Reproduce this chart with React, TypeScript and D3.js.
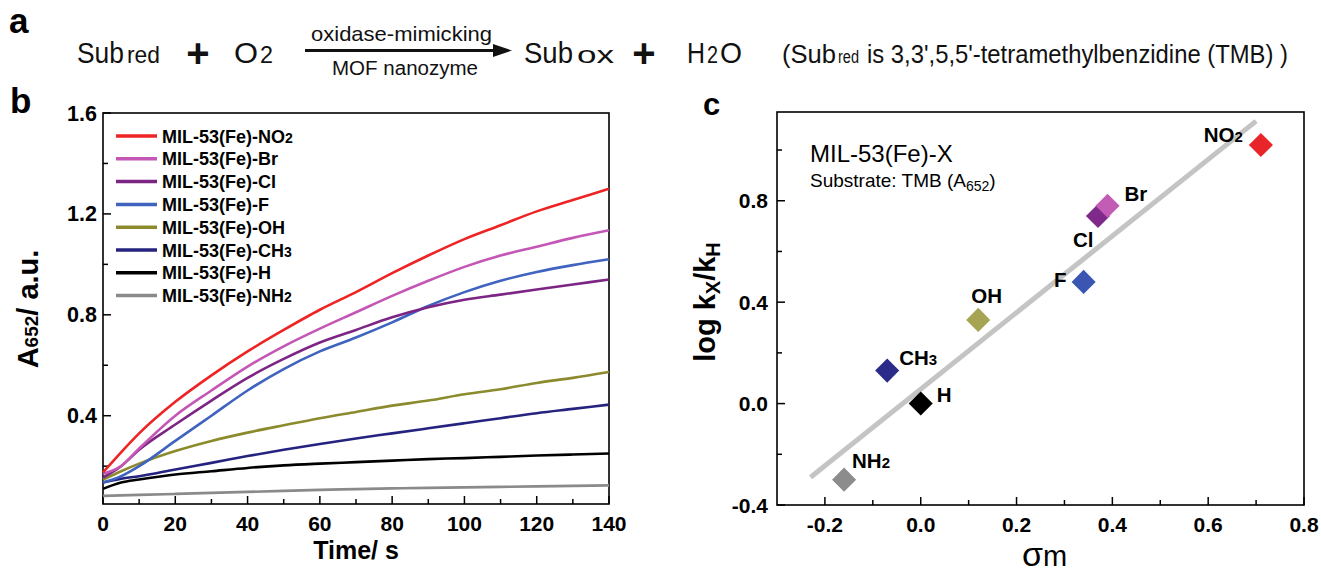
import React from 'react';
import * as d3 from 'd3';

// ---- panel b: absorbance vs time ----
const times = [0, 5, 10, 20, 30, 40, 50, 60, 70, 80, 90, 100, 110, 120, 130, 140];
const no2Values = [0.175, 0.255, 0.33, 0.455, 0.56, 0.655, 0.74, 0.82, 0.89, 0.965, 1.035, 1.1, 1.155, 1.21, 1.255, 1.3];
const brValues = [0.17, 0.2, 0.27, 0.4, 0.5, 0.595, 0.675, 0.745, 0.81, 0.875, 0.935, 0.99, 1.035, 1.07, 1.105, 1.135];
const clValues = [0.155, 0.2, 0.265, 0.365, 0.46, 0.55, 0.625, 0.69, 0.74, 0.79, 0.83, 0.86, 0.88, 0.9, 0.92, 0.94];
const fValues = [0.135, 0.16, 0.2, 0.3, 0.4, 0.5, 0.585, 0.655, 0.71, 0.77, 0.835, 0.89, 0.935, 0.97, 0.997, 1.02];
const ohValues = [0.147, 0.18, 0.21, 0.26, 0.3, 0.333, 0.362, 0.39, 0.415, 0.44, 0.46, 0.485, 0.505, 0.53, 0.55, 0.573];
const ch3Values = [0.135, 0.15, 0.16, 0.187, 0.213, 0.24, 0.265, 0.288, 0.31, 0.33, 0.35, 0.37, 0.39, 0.41, 0.427, 0.444];
const hValues = [0.11, 0.135, 0.147, 0.167, 0.18, 0.193, 0.203, 0.21, 0.216, 0.222, 0.228, 0.232, 0.237, 0.242, 0.246, 0.25];
const nh2Values = [0.082, 0.084, 0.086, 0.09, 0.094, 0.098, 0.102, 0.106, 0.109, 0.112, 0.114, 0.116, 0.118, 0.12, 0.122, 0.124];

const legendMain = ['MIL-53(Fe)-NO', 'MIL-53(Fe)-Br', 'MIL-53(Fe)-Cl', 'MIL-53(Fe)-F', 'MIL-53(Fe)-OH', 'MIL-53(Fe)-CH', 'MIL-53(Fe)-H', 'MIL-53(Fe)-NH'];
const legendSub = ['2', '', '', '', '', '3', '', '2'];
const lineColors = ['#ee2424', '#c457b6', '#7c2585', '#3f63be', '#8b8b2e', '#25237f', '#000000', '#8a8a8a'];
const allSeries = [no2Values, brValues, clValues, fValues, ohValues, ch3Values, hValues, nh2Values];

const bXTicks = [0, 20, 40, 60, 80, 100, 120, 140];
const bXMinor = [10, 30, 50, 70, 90, 110, 130];
const bYTicks = [0.4, 0.8, 1.2, 1.6];
const bYMinor = [0.2, 0.6, 1.0, 1.4];

// ---- panel c: Hammett plot ----
const groupMain = ['NO', 'Br', 'Cl', 'F', 'OH', 'CH', 'H', 'NH'];
const groupSub = ['2', '', '', '', '', '3', '', '2'];
const sigmaM = [0.71, 0.39, 0.37, 0.34, 0.12, -0.07, 0.0, -0.16];
const logRatio = [1.02, 0.78, 0.74, 0.48, 0.33, 0.13, 0.0, -0.3];
const pointColors = ['#e8262a', '#c25cb5', '#7f2a8a', '#3a56b2', '#a5a455', '#2b2b8a', '#000000', '#8c8c8c'];
const drawOrder = [0, 2, 1, 3, 4, 5, 6, 7];
const fitSlope = 1.51;
const fitIntercept = 0.057;
const fitRange = [-0.23, 0.7];

const cXTicks = [-0.2, 0.0, 0.2, 0.4, 0.6, 0.8];
const cXMinor = [-0.1, 0.1, 0.3, 0.5, 0.7];
const cYTicks = [-0.4, 0.0, 0.4, 0.8];
const cYMinor = [-0.2, 0.2, 0.6, 1.0];

// label placement relative to each point (pixels)
const labelOffsets: [number, number, string][] = [
  [-18, -3, 'end'],
  [17, -5, 'start'],
  [-25, 31, 'start'],
  [-17, 5, 'end'],
  [-7, -17, 'start'],
  [12, -6, 'start'],
  [16, -2, 'start'],
  [8, -12, 'start'],
];

const FONT = '"Liberation Sans", Arial, Helvetica, sans-serif';

export default function App() {
  const bx = d3.scaleLinear().domain([0, 140]).range([103, 609]);
  const by = d3.scaleLinear().domain([0.05, 1.6]).range([504, 113]);
  const cx = d3.scaleLinear().domain([-0.3, 0.8]).range([777, 1304]);
  const cy = d3.scaleLinear().domain([-0.4, 1.15]).range([505, 112]);

  const line = d3.line<number>()
    .x((_, i) => bx(times[i]))
    .y(d => by(d))
    .curve(d3.curveMonotoneX);

  const fitLine = d3.line<number>()
    .x(s => cx(s))
    .y(s => cy(fitSlope * s + fitIntercept));

  const diamond = d3.symbol().type(d3.symbolSquare).size(290)();
  const fmt = (v: number) => v.toFixed(1);

  const [b0, b1] = bx.range();
  const [by0, by1] = by.range();
  const [c0, c1] = cx.range();
  const [cy0, cy1] = cy.range();

  // scheme text piece squeezed to the width measured on the figure
  const eq = (t: string, x: number, w: number, size: number, y = 63) => (
    <text x={x} y={y} fontSize={size} textLength={w} lengthAdjust="spacingAndGlyphs">{t}</text>
  );

  return (
    <div>
      <style>{'body{margin:0}'}</style>
      <svg width={1321} height={574} fontFamily={FONT} style={{ display: 'block', background: '#fff' }}>
        {/* panel a: reaction scheme */}
        <text x={9} y={33} fontSize={35} fontWeight="bold">a</text>
        <g fill="#111">
          {eq('Sub', 77, 47, 30)}
          {eq('red', 127, 33, 24)}
          <text x={198} y={67} fontSize={40} fontWeight="bold" textAnchor="middle">+</text>
          {eq('O', 234, 24, 30)}
          {eq('2', 260, 13, 24)}
          {eq('oxidase-mimicking', 311, 181, 21, 41)}
          <path d="M305,50.5H496" stroke="#111" strokeWidth={3} />
          <path d="M493,44L512,50.5L493,57Z" fill="#111" />
          {eq('MOF nanozyme', 332, 146, 20, 75)}
          {eq('Sub', 524, 49, 30)}
          {eq('ox', 577, 37, 24)}
          <text x={644} y={67} fontSize={40} fontWeight="bold" textAnchor="middle">+</text>
          {eq('H', 687, 18, 30)}
          {eq('2', 707, 11, 24)}
          {eq('O', 720, 22, 30)}
          {eq('(Sub', 782, 54, 26)}
          {eq('red', 838, 21, 18)}
          {eq("is 3,3',5,5'-tetramethylbenzidine (TMB) )", 867, 421, 25)}
        </g>

        {/* panel b */}
        <text x={10} y={113} fontSize={35} fontWeight="bold">b</text>
        <rect x={b0} y={by1} width={b1 - b0} height={by0 - by1} fill="none" stroke="#000" strokeWidth={1.6} />
        {bXTicks.map(t => (
          <g key={'bx' + t}>
            <line x1={bx(t)} x2={bx(t)} y1={by0} y2={by0 - 8} stroke="#000" strokeWidth={1.5} />
            <text x={bx(t)} y={531} fontSize={21} fontWeight="bold" textAnchor="middle">{t}</text>
          </g>
        ))}
        {bXMinor.map(t => (
          <line key={'bxm' + t} x1={bx(t)} x2={bx(t)} y1={by0} y2={by0 - 5} stroke="#000" strokeWidth={1.5} />
        ))}
        {bYTicks.map(v => (
          <g key={'by' + v}>
            <line x1={b0} x2={b0 + 8} y1={by(v)} y2={by(v)} stroke="#000" strokeWidth={1.5} />
            <text x={97} y={by(v) + 7.5} fontSize={21.5} fontWeight="bold" textAnchor="end">{fmt(v)}</text>
          </g>
        ))}
        {bYMinor.map(v => (
          <line key={'bym' + v} x1={b0} x2={b0 + 5} y1={by(v)} y2={by(v)} stroke="#000" strokeWidth={1.5} />
        ))}
        {allSeries.map((s, i) => i).reverse().map(i => (
          <path key={'ln' + i} d={line(allSeries[i]) || ''} fill="none" stroke={lineColors[i]} strokeWidth={2.6} />
        ))}
        {legendMain.map((m, i) => {
          const y = 136 + i * 22.8;
          return (
            <g key={'lg' + i}>
              <line x1={116} x2={157} y1={y} y2={y} stroke={lineColors[i]} strokeWidth={3.5} />
              <text x={162} y={y + 6.5} fontSize={18} fontWeight="bold">
                {m}<tspan fontSize={14}>{legendSub[i]}</tspan>
              </text>
            </g>
          );
        })}
        <text x={356} y={559} fontSize={25} fontWeight="bold" textAnchor="middle">Time/ s</text>
        <text transform="translate(38,309) rotate(-90)" fontSize={29} fontWeight="bold" textAnchor="middle">
          A<tspan fontSize={19}>652</tspan>/ a.u.
        </text>

        {/* panel c */}
        <text x={703} y={115} fontSize={31} fontWeight="bold">c</text>
        <rect x={c0} y={cy1} width={c1 - c0} height={cy0 - cy1} fill="none" stroke="#000" strokeWidth={1.6} />
        {cXTicks.map(v => (
          <g key={'cx' + v}>
            <line x1={cx(v)} x2={cx(v)} y1={cy0} y2={cy0 - 8} stroke="#000" strokeWidth={1.5} />
            <text x={cx(v)} y={532} fontSize={21} fontWeight="bold" textAnchor="middle">{fmt(v)}</text>
          </g>
        ))}
        {cXMinor.map(v => (
          <line key={'cxm' + v} x1={cx(v)} x2={cx(v)} y1={cy0} y2={cy0 - 5} stroke="#000" strokeWidth={1.5} />
        ))}
        {cYTicks.map(v => (
          <g key={'cy' + v}>
            <line x1={c0} x2={c0 + 8} y1={cy(v)} y2={cy(v)} stroke="#000" strokeWidth={1.5} />
            <text x={768} y={cy(v) + 7.5} fontSize={21} fontWeight="bold" textAnchor="end">{fmt(v)}</text>
          </g>
        ))}
        {cYMinor.map(v => (
          <line key={'cym' + v} x1={c0} x2={c0 + 5} y1={cy(v)} y2={cy(v)} stroke="#000" strokeWidth={1.5} />
        ))}
        <path d={fitLine(fitRange) || ''} fill="none" stroke="#c4c4c4" strokeWidth={5} />
        {drawOrder.map(i => (
          <path key={'pt' + i} d={diamond || ''} fill={pointColors[i]}
            transform={`translate(${cx(sigmaM[i])},${cy(logRatio[i])}) rotate(45)`} />
        ))}
        {groupMain.map((g, i) => (
          <text key={'gl' + i} x={cx(sigmaM[i]) + labelOffsets[i][0]} y={cy(logRatio[i]) + labelOffsets[i][1]}
            fontSize={20.5} fontWeight="bold" textAnchor={labelOffsets[i][2]}>
            {g}<tspan fontSize={15}>{groupSub[i]}</tspan>
          </text>
        ))}
        <text x={810} y={162} fontSize={24}>MIL-53(Fe)-X</text>
        <text x={810} y={187} fontSize={19}>
          Substrate: TMB (A<tspan fontSize={14} dy={4}>652</tspan><tspan dy={-4}>)</tspan>
        </text>
        <text transform="translate(715,302) rotate(-90)" fontSize={29} fontWeight="bold" textAnchor="middle">
          log k<tspan fontSize={20} dy={5}>X</tspan><tspan dy={-5}>/k</tspan><tspan fontSize={20} dy={5}>H</tspan>
        </text>
        <text x={1022} y={566}>
          <tspan fontSize={34}>σ</tspan><tspan fontSize={29}>m</tspan>
        </text>
      </svg>
    </div>
  );
}
